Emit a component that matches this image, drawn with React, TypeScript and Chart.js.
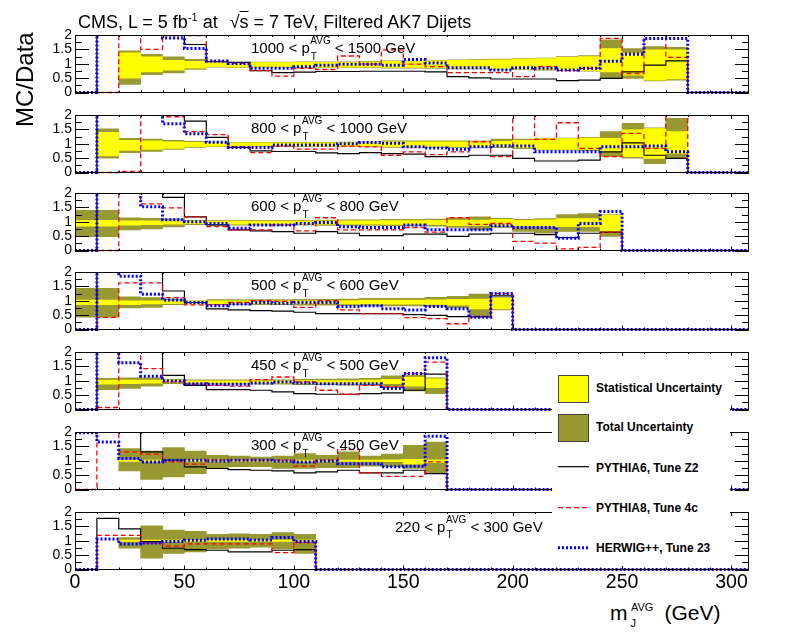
import React, { useEffect, useRef } from "react";
import { Chart, registerables } from "chart.js";

Chart.register(...registerables);

const O = 3; // above the 0..2 frame: clipped away, only the vertical edge shows
const _ = null;

const BIN_EDGES = [0, 10, 20, 30, 40, 50, 60, 70, 80, 90, 100, 110, 120, 130, 140, 150, 160, 170, 180, 190, 200, 210, 220, 230, 240, 250, 260, 270, 280, 290, 300, 310];
const X_TICKS = [0, 50, 100, 150, 200, 250, 300];
const X_MINOR = [0, 10, 20, 30, 40, 50, 60, 70, 80, 90, 100, 110, 120, 130, 140, 150, 160, 170, 180, 190, 200, 210, 220, 230, 240, 250, 260, 270, 280, 290, 300];
const Y_TICKS = [0, 0.5, 1, 1.5, 2];
const Y_MINOR = [0.25, 0.75, 1.25, 1.75];

// 1000 < pT < 1500
const PY6_1000 = [0, O, O, O, O, 1.67, 1.07, 1.05, 0.76, 0.69, 0.71, 0.73, 0.73, 0.74, 0.74, 0.74, 0.72, 0.55, 0.51, 0.47, 0.47, 0.47, 0.41, 0.43, 0.49, 0.72, 0.95, 1.1, 0, 0, 0];
const PY8_1000 = [0, 0, O, 1.5, 1.98, 1.98, 1.09, 1.01, 0.76, 0.57, 0.84, 0.8, 1.27, 0.99, 1.48, 0.99, 0.9, 0.69, 0.69, 0.69, 0.55, 0.9, 0.76, 0.84, 1.88, 0.66, O, 1.22, 0, 0, 0];
const HW_1000 = [0, O, O, O, 1.9, 1.53, 1.1, 1.01, 0.84, 0.84, 0.9, 0.95, 0.98, 0.98, 0.95, 1.15, 1.03, 0.86, 0.86, 0.78, 0.86, 0.84, 0.78, 0.84, 1.09, 1.33, 1.88, 1.88, 0, 0, 0];
const STAT_LO_1000 = [_, _, 0.5, 0.72, 0.78, 0.85, 0.9, 0.88, 0.88, 0.88, 0.88, 0.88, 0.88, 0.88, 0.87, 0.87, 0.86, 0.84, 0.84, 0.83, 0.82, 0.8, 0.78, 0.76, 0.72, 0.6, 0.43, 0.47, _, _, _];
const STAT_HI_1000 = [_, _, 1.38, 1.24, 1.12, 1.08, 1.05, 1.04, 1.04, 1.04, 1.05, 1.05, 1.05, 1.06, 1.08, 1.08, 1.1, 1.12, 1.13, 1.14, 1.16, 1.18, 1.22, 1.25, 1.53, 1.36, 1.48, 1.48, _, _, _];
const TOT_LO_1000 = [_, _, 0.28, 0.62, 0.68, 0.8, 0.88, 0.86, 0.86, 0.86, 0.86, 0.86, 0.86, 0.86, 0.85, 0.85, 0.84, 0.82, 0.82, 0.81, 0.8, 0.78, 0.76, 0.74, 0.52, 0.49, 0.4, 0.43, _, _, _];
const TOT_HI_1000 = [_, _, 1.45, 1.33, 1.24, 1.15, 1.08, 1.06, 1.06, 1.06, 1.07, 1.07, 1.07, 1.08, 1.1, 1.1, 1.12, 1.14, 1.15, 1.16, 1.18, 1.2, 1.25, 1.28, 1.83, 1.53, 1.6, 1.57, _, _, _];

// 800 < pT < 1000
const PY6_800 = [0, O, O, O, O, 1.79, 1.22, 0.87, 0.75, 0.73, 0.73, 0.68, 0.66, 0.69, 0.66, 0.64, 0.55, 0.55, 0.6, 0.6, 0.49, 0.4, 0.4, 0.43, 0.72, 1.03, 0.6, 0.49, 0, 0, 0];
const PY8_800 = [0, 0, 0.04, O, 1.94, 1.42, 1.32, 0.89, 0.69, 0.92, 0.81, 0.81, 0.92, 0.89, 0.6, 0.72, 0.62, 0.72, 1.07, 0.55, O, 1.15, 1.73, 0.84, 0.55, 1.36, 0.84, O, 0, 0, 0];
const HW_800 = [0, O, O, O, 1.7, 1.35, 1.05, 0.87, 0.87, 0.96, 0.96, 0.96, 1.0, 1.04, 1.02, 0.9, 0.85, 0.81, 0.9, 0.93, 0.92, 0.72, 0.72, 0.72, 0.9, 0.9, 0.92, 0.72, 0, 0, 0];
const STAT_LO_800 = [_, 0.58, 0.77, 0.8, 0.84, 0.9, 0.92, 0.92, 0.92, 0.92, 0.92, 0.92, 0.92, 0.92, 0.9, 0.9, 0.9, 0.9, 0.9, 0.9, 0.86, 0.8, 0.8, 0.8, 0.72, 0.55, 0.49, 0.66, _, _, _];
const STAT_HI_800 = [_, 1.4, 1.12, 1.1, 1.07, 1.05, 1.04, 1.03, 1.03, 1.03, 1.03, 1.03, 1.04, 1.04, 1.07, 1.07, 1.07, 1.07, 1.07, 1.08, 1.12, 1.18, 1.18, 1.2, 1.19, 1.48, 1.53, 1.42, _, _, _];
const TOT_LO_800 = [_, 0.5, 0.69, 0.73, 0.8, 0.87, 0.9, 0.9, 0.9, 0.9, 0.9, 0.9, 0.9, 0.9, 0.87, 0.87, 0.87, 0.87, 0.87, 0.86, 0.83, 0.78, 0.78, 0.76, 0.55, 0.5, 0.31, 0.49, _, _, _];
const TOT_HI_800 = [_, 1.52, 1.19, 1.16, 1.12, 1.08, 1.06, 1.05, 1.05, 1.05, 1.05, 1.05, 1.06, 1.06, 1.1, 1.1, 1.1, 1.1, 1.1, 1.16, 1.16, 1.2, 1.2, 1.22, 1.42, 1.71, 1.55, 1.88, _, _, _];

// 600 < pT < 800
const PY6_600 = [0, O, O, O, 1.85, 1.17, 0.89, 0.72, 0.68, 0.66, 0.6, 0.66, 0.6, 0.52, 0.52, 0.57, 0.57, 0.49, 0.57, 0.6, 0.6, 0.55, 0.45, 0.6, 0.64, 0, 0, 0, 0, 0, 0];
const PY8_600 = [0, 0, O, 1.62, 1.48, 1.17, 0.83, 0.72, 0.72, 0.89, 0.68, 1.14, 0.72, 0.72, 0.72, 0.8, 0.64, 1.14, 0.91, 0.94, 0.32, 0.26, 0.06, 0.11, 0.64, 0, 0, 0, 0, 0, 0];
const HW_600 = [0, O, O, 1.52, 1.07, 1.0, 0.94, 0.77, 0.89, 0.89, 0.94, 0.97, 0.83, 0.8, 0.8, 0.89, 0.72, 0.72, 0.72, 0.86, 0.8, 0.8, 0.43, 0.94, 1.36, 0, 0, 0, 0, 0, 0];
const STAT_LO_600 = [0.85, 0.85, 0.88, 0.9, 0.92, 0.93, 0.92, 0.92, 0.92, 0.92, 0.92, 0.92, 0.92, 0.92, 0.91, 0.91, 0.9, 0.86, 0.86, 0.86, 0.85, 0.84, 0.83, 0.83, 0.66, _, _, _, _, _, _];
const STAT_HI_600 = [1.05, 1.05, 1.03, 1.03, 1.03, 1.03, 1.02, 1.02, 1.02, 1.02, 1.02, 1.02, 1.03, 1.03, 1.04, 1.04, 1.05, 1.06, 1.06, 1.08, 1.05, 1.07, 1.11, 1.11, 1.23, _, _, _, _, _, _];
const TOT_LO_600 = [0.48, 0.48, 0.72, 0.75, 0.82, 0.9, 0.88, 0.88, 0.88, 0.88, 0.88, 0.87, 0.87, 0.87, 0.86, 0.86, 0.85, 0.8, 0.72, 0.8, 0.66, 0.6, 0.66, 0.66, 0.49, _, _, _, _, _, _];
const TOT_HI_600 = [1.4, 1.4, 1.14, 1.12, 1.1, 1.05, 1.05, 1.05, 1.05, 1.05, 1.05, 1.06, 1.07, 1.07, 1.08, 1.08, 1.09, 1.14, 1.17, 1.12, 1.08, 1.11, 1.25, 1.28, 1.25, _, _, _, _, _, _];

// 500 < pT < 600
const PY6_500 = [0, O, O, O, 1.34, 0.94, 0.72, 0.68, 0.66, 0.64, 0.6, 0.55, 0.55, 0.55, 0.55, 0.52, 0.49, 0.45, 0.45, 1.17, 0, 0, 0, 0, 0, 0, 0, 0, 0, 0, 0];
const PY8_500 = [0, 0.42, 1.62, 1.62, 1.11, 0.86, 0.86, 0.94, 1.0, 0.98, 0.77, 1.0, 0.68, 0.55, 0.55, 0.41, 0.38, 0.2, 0.45, 1.25, 0, 0, 0, 0, 0, 0, 0, 0, 0, 0, 0];
const HW_500 = [0, O, 1.85, 1.23, 1.03, 0.94, 0.83, 0.89, 0.94, 0.91, 0.94, 0.94, 0.8, 0.83, 0.72, 0.68, 0.8, 0.72, 0.43, 1.25, 0, 0, 0, 0, 0, 0, 0, 0, 0, 0, 0];
const STAT_LO_500 = [0.86, 0.86, 0.86, 0.89, 0.9, 0.91, 0.9, 0.9, 0.9, 0.9, 0.9, 0.9, 0.89, 0.88, 0.88, 0.88, 0.87, 0.85, 0.72, 0.72, _, _, _, _, _, _, _, _, _, _, _];
const STAT_HI_500 = [1.02, 1.02, 1.0, 1.0, 1.0, 0.99, 1.0, 1.0, 1.0, 1.0, 1.0, 1.01, 1.01, 1.02, 1.02, 1.02, 1.03, 1.05, 1.06, 1.09, _, _, _, _, _, _, _, _, _, _, _];
const TOT_LO_500 = [0.43, 0.43, 0.75, 0.77, 0.86, 0.89, 0.86, 0.86, 0.86, 0.86, 0.85, 0.85, 0.84, 0.82, 0.82, 0.82, 0.8, 0.75, 0.43, 0.68, _, _, _, _, _, _, _, _, _, _, _];
const TOT_HI_500 = [1.43, 1.43, 1.14, 1.11, 1.06, 1.0, 1.04, 1.04, 1.04, 1.04, 1.05, 1.05, 1.06, 1.08, 1.08, 1.08, 1.12, 1.15, 1.23, 1.11, _, _, _, _, _, _, _, _, _, _, _];

// 450 < pT < 500
const PY6_450 = [0, O, O, O, 1.19, 0.84, 0.69, 0.69, 0.67, 0.61, 0.55, 0.53, 0.53, 0.55, 0.58, 0.67, 1.23, 0, 0, 0, 0, 0, 0, 0, 0, 0, 0, 0, 0, 0, 0];
const PY8_450 = [0, 0.07, O, 1.42, 0.96, 0.88, 0.84, 0.81, 1.04, 1.13, 0.96, 0.67, 0.53, 0.84, 0.79, 1.25, 1.65, 0, 0, 0, 0, 0, 0, 0, 0, 0, 0, 0, 0, 0, 0];
const HW_450 = [0, O, 1.63, 1.16, 0.99, 0.9, 0.88, 0.88, 0.92, 0.96, 0.92, 0.9, 0.9, 0.9, 0.73, 1.25, 1.8, 0, 0, 0, 0, 0, 0, 0, 0, 0, 0, 0, 0, 0, 0];
const STAT_LO_450 = [_, 0.88, 0.9, 0.92, 0.94, 0.92, 0.92, 0.92, 0.92, 0.92, 0.92, 0.91, 0.91, 0.91, 0.9, 0.81, 0.76, _, _, _, _, _, _, _, _, _, _, _, _, _, _];
const STAT_HI_450 = [_, 1.02, 1.02, 1.02, 1.02, 1.0, 1.0, 1.0, 1.0, 1.0, 1.01, 1.01, 1.01, 1.02, 1.05, 1.13, 1.07, _, _, _, _, _, _, _, _, _, _, _, _, _, _];
const TOT_LO_450 = [_, 0.69, 0.73, 0.81, 0.9, 0.88, 0.88, 0.88, 0.88, 0.88, 0.86, 0.86, 0.85, 0.85, 0.76, 0.65, 0.55, _, _, _, _, _, _, _, _, _, _, _, _, _, _];
const TOT_HI_450 = [_, 1.08, 1.1, 1.1, 1.05, 1.03, 1.03, 1.03, 1.03, 1.03, 1.05, 1.06, 1.07, 1.08, 1.17, 1.19, 1.1, _, _, _, _, _, _, _, _, _, _, _, _, _, _];

// 300 < pT < 450
const PY6_300 = [O, O, O, 1.31, 1.02, 0.79, 0.73, 0.69, 0.67, 0.65, 0.58, 0.61, 0.67, 0.58, 0.58, 0.67, 0.55, 0, 0, 0, 0, 0, 0, 0, 0, 0, 0, 0, 0, 0, 0];
const PY8_300 = [0, O, 1.31, 1.23, 0.96, 0.88, 1.02, 1.02, 1.02, 1.02, 0.81, 1.02, 1.39, 0.58, 0.46, 0.46, 0.96, 0, 0, 0, 0, 0, 0, 0, 0, 0, 0, 0, 0, 0, 0];
const HW_300 = [1.97, 1.65, 1.08, 0.96, 1.02, 1.02, 0.99, 1.02, 1.02, 0.99, 0.96, 0.99, 0.9, 0.9, 0.79, 0.81, 1.85, 0, 0, 0, 0, 0, 0, 0, 0, 0, 0, 0, 0, 0, 0];
const STAT_LO_300 = [_, _, 0.98, 0.98, 0.98, 0.98, 0.98, 0.98, 0.98, 0.98, 0.98, 0.98, 0.98, 0.98, 0.97, 0.88, 0.93, _, _, _, _, _, _, _, _, _, _, _, _, _, _];
const STAT_HI_300 = [_, _, 1.02, 1.02, 1.02, 1.02, 1.02, 1.02, 1.02, 1.02, 1.02, 1.02, 1.02, 1.02, 1.03, 1.05, 1.03, _, _, _, _, _, _, _, _, _, _, _, _, _, _];
const TOT_LO_300 = [_, _, 0.65, 0.35, 0.44, 0.55, 0.73, 0.79, 0.79, 0.73, 0.73, 0.76, 0.76, 0.81, 0.79, 0.73, 0.55, _, _, _, _, _, _, _, _, _, _, _, _, _, _];
const TOT_HI_300 = [_, _, 1.42, 1.34, 1.46, 1.34, 1.19, 1.16, 1.13, 1.16, 1.25, 1.19, 1.31, 1.16, 1.23, 1.54, 1.65, _, _, _, _, _, _, _, _, _, _, _, _, _, _];

// 220 < pT < 300
const PY6_220 = [0, 1.78, 1.41, 0.97, 0.74, 0.69, 0.67, 0.61, 0.61, 0.67, 0.69, 0, 0, 0, 0, 0, 0, 0, 0, 0, 0, 0, 0, 0, 0, 0, 0, 0, 0, 0, 0];
const PY8_220 = [0, 1.19, 1.19, 0.92, 0.81, 0.89, 0.89, 0.89, 0.89, 0.59, 0.94, 0, 0, 0, 0, 0, 0, 0, 0, 0, 0, 0, 0, 0, 0, 0, 0, 0, 0, 0, 0];
const HW_220 = [0, 1.06, 0.89, 0.92, 0.97, 1.02, 1.06, 1.06, 1.03, 1.11, 0.97, 0, 0, 0, 0, 0, 0, 0, 0, 0, 0, 0, 0, 0, 0, 0, 0, 0, 0, 0, 0];
const STAT_LO_220 = [_, _, 0.98, 0.98, 0.98, 0.98, 0.98, 0.98, 0.98, 0.98, 0.98, _, _, _, _, _, _, _, _, _, _, _, _, _, _, _, _, _, _, _, _];
const STAT_HI_220 = [_, _, 1.02, 1.02, 1.02, 1.02, 1.02, 1.02, 1.02, 1.02, 1.02, _, _, _, _, _, _, _, _, _, _, _, _, _, _, _, _, _, _, _, _];
const TOT_LO_220 = [_, _, 0.74, 0.39, 0.56, 0.61, 0.72, 0.74, 0.78, 0.72, 0.56, _, _, _, _, _, _, _, _, _, _, _, _, _, _, _, _, _, _, _, _];
const TOT_HI_220 = [_, _, 1.11, 1.52, 1.37, 1.33, 1.22, 1.24, 1.22, 1.28, 1.22, _, _, _, _, _, _, _, _, _, _, _, _, _, _, _, _, _, _, _, _];

type Vals = (number | null)[];
interface PanelData {
  low: string;
  high: string;
  py6: number[];
  py8: number[];
  hw: number[];
  statLo: Vals;
  statHi: Vals;
  totLo: Vals;
  totHi: Vals;
}

const PANELS: PanelData[] = [
  { low: "1000", high: "1500", py6: PY6_1000, py8: PY8_1000, hw: HW_1000, statLo: STAT_LO_1000, statHi: STAT_HI_1000, totLo: TOT_LO_1000, totHi: TOT_HI_1000 },
  { low: "800", high: "1000", py6: PY6_800, py8: PY8_800, hw: HW_800, statLo: STAT_LO_800, statHi: STAT_HI_800, totLo: TOT_LO_800, totHi: TOT_HI_800 },
  { low: "600", high: "800", py6: PY6_600, py8: PY8_600, hw: HW_600, statLo: STAT_LO_600, statHi: STAT_HI_600, totLo: TOT_LO_600, totHi: TOT_HI_600 },
  { low: "500", high: "600", py6: PY6_500, py8: PY8_500, hw: HW_500, statLo: STAT_LO_500, statHi: STAT_HI_500, totLo: TOT_LO_500, totHi: TOT_HI_500 },
  { low: "450", high: "500", py6: PY6_450, py8: PY8_450, hw: HW_450, statLo: STAT_LO_450, statHi: STAT_HI_450, totLo: TOT_LO_450, totHi: TOT_HI_450 },
  { low: "300", high: "450", py6: PY6_300, py8: PY8_300, hw: HW_300, statLo: STAT_LO_300, statHi: STAT_HI_300, totLo: TOT_LO_300, totHi: TOT_HI_300 },
  { low: "220", high: "300", py6: PY6_220, py8: PY8_220, hw: HW_220, statLo: STAT_LO_220, statHi: STAT_HI_220, totLo: TOT_LO_220, totHi: TOT_HI_220 },
];

// layout (page pixels)
const FRAME_TOPS = [35, 115, 193, 272, 352, 432, 512];
const FRAME_H = 57.5;
const FRAME_LEFT = 75;
const CANVAS_W = 769; // frame right edge at 749
const LABEL_X = [251, 251, 251, 251, 251, 251, 395];
const LABEL_DY = [18.3, 18.3, 18.3, 18.3, 18.3, 18.3, 19.5];

const FONT = '"Liberation Sans", Arial, sans-serif';
const YELLOW = "#ffff00";
const OLIVE = "#999933";

function stepPoints(v: number[]) {
  return BIN_EDGES.map((e, i) => ({ x: e, y: v[Math.min(i, v.length - 1)] }));
}

function bandPoints(lo: Vals, hi: Vals) {
  const pts: { x: number; y: [number, number] }[] = [];
  lo.forEach((l, i) => {
    const h = hi[i];
    if (l != null && h != null) pts.push({ x: (BIN_EDGES[i] + BIN_EDGES[i + 1]) / 2, y: [l, h] });
  });
  return pts;
}

// ROOT style frame with inward ticks on all four sides
const framePlugin = {
  id: "rootFrame",
  afterDraw(chart: any) {
    const { ctx, chartArea: a, scales } = chart;
    const xs = scales.x;
    const ys = scales.y;
    ctx.save();
    ctx.strokeStyle = "#000";
    ctx.lineWidth = 1;
    ctx.beginPath();
    const yTick = (v: number, len: number) => {
      const py = Math.round(ys.getPixelForValue(v)) + 0.5;
      ctx.moveTo(a.left, py);
      ctx.lineTo(a.left + len, py);
      ctx.moveTo(a.right, py);
      ctx.lineTo(a.right - len, py);
    };
    Y_TICKS.forEach((v) => yTick(v, 14));
    Y_MINOR.forEach((v) => yTick(v, 7));
    X_MINOR.forEach((v) => {
      const px = Math.round(xs.getPixelForValue(v)) + 0.5;
      const len = X_TICKS.includes(v) ? 4 : 2;
      ctx.moveTo(px, a.bottom);
      ctx.lineTo(px, a.bottom - len);
      ctx.moveTo(px, a.top);
      ctx.lineTo(px, a.top + len);
    });
    ctx.stroke();
    ctx.strokeRect(Math.round(a.left) + 0.5, Math.round(a.top) + 0.5, Math.round(a.width) - 1, Math.round(a.height) - 1);
    ctx.restore();
  },
};

// "low < pT^AVG < high GeV"
const labelPlugin = {
  id: "ptLabel",
  afterDraw(chart: any, _args: any, opts: any) {
    const ctx = chart.ctx;
    ctx.save();
    ctx.fillStyle = "#000";
    ctx.textBaseline = "alphabetic";
    ctx.textAlign = "left";
    let x = opts.x;
    const y = opts.y;
    ctx.font = `15px ${FONT}`;
    const head = `${opts.low} < p`;
    ctx.fillText(head, x, y);
    x += ctx.measureText(head).width + 0.5;
    ctx.font = `10px ${FONT}`;
    ctx.fillText("AVG", x, y - 9);
    ctx.fillText("T", x + 0.5, y + 6.7);
    x += ctx.measureText("AVG").width;
    ctx.font = `15px ${FONT}`;
    ctx.fillText(` < ${opts.high} GeV`, x, y);
    ctx.restore();
  },
};

const Panel: React.FC<{ idx: number }> = ({ idx }) => {
  const canvasRef = useRef<HTMLCanvasElement | null>(null);
  const isLast = idx === PANELS.length - 1;
  const frameTop = FRAME_TOPS[idx];
  const canvasTop = Math.floor(frameTop) - 10;
  const padTop = frameTop - canvasTop;
  const axisH = isLast ? 30 : 0;
  const height = Math.ceil(padTop + FRAME_H + (isLast ? 30 : 10));
  const padBottom = height - padTop - FRAME_H - axisH;

  useEffect(() => {
    if (!canvasRef.current) return;
    const p = PANELS[idx];
    const lineCommon = { type: "line" as const, pointRadius: 0, stepped: true, fill: false, clip: { left: 0, right: 0, top: 0, bottom: 3 } as any };
    const chart = new Chart(canvasRef.current, {
      type: "bar",
      data: {
        datasets: [
          { ...lineCommon, label: "HERWIG++, Tune 23", data: stepPoints(p.hw), borderColor: "#0000ff", borderWidth: 3, borderDash: [2, 2], order: 1 },
          { ...lineCommon, label: "PYTHIA8, Tune 4c", data: stepPoints(p.py8), borderColor: "#ff0000", borderWidth: 1.3, borderDash: [5, 3], order: 2 },
          { ...lineCommon, label: "PYTHIA6, Tune Z2", data: stepPoints(p.py6), borderColor: "#000000", borderWidth: 1.2, order: 3 },
          { type: "bar", label: "Statistical Uncertainty", data: bandPoints(p.statLo, p.statHi) as any, backgroundColor: YELLOW, borderWidth: 0, grouped: false, barPercentage: 1, categoryPercentage: 1, order: 4 },
          { type: "bar", label: "Total Uncertainty", data: bandPoints(p.totLo, p.totHi) as any, backgroundColor: OLIVE, borderWidth: 0, grouped: false, barPercentage: 1, categoryPercentage: 1, order: 5 },
        ] as any,
      },
      options: {
        animation: false,
        responsive: false,
        events: [],
        layout: { padding: { top: padTop, bottom: padBottom, left: 0, right: CANVAS_W - 749 } },
        plugins: {
          legend: { display: false },
          tooltip: { enabled: false },
          ptLabel: { x: LABEL_X[idx], y: frameTop + LABEL_DY[idx] - canvasTop, low: p.low, high: p.high },
        } as any,
        scales: {
          x: {
            type: "linear",
            min: 0,
            max: 308,
            offset: false,
            display: isLast,
            grid: { display: false, drawTicks: false },
            border: { display: false },
            afterBuildTicks: (s: any) => {
              s.ticks = X_TICKS.map((v) => ({ value: v }));
            },
            ticks: { autoSkip: false, maxRotation: 0, color: "#000", padding: 1, font: { family: FONT, size: 19.5 }, callback: (v: any) => String(v) },
            ...(isLast ? { afterFit: (s: any) => { s.height = axisH; } } : {}),
          },
          y: {
            min: 0,
            max: 2,
            grid: { display: false, drawTicks: false },
            border: { display: false },
            afterBuildTicks: (s: any) => {
              s.ticks = Y_TICKS.map((v) => ({ value: v }));
            },
            ticks: { autoSkip: false, color: "#000", padding: 3, font: { family: FONT, size: 14, lineHeight: 1 }, callback: (v: any) => String(v) },
            afterFit: (s: any) => {
              s.width = FRAME_LEFT;
            },
          },
        } as any,
      },
      plugins: [framePlugin, labelPlugin],
    });
    return () => {
      chart.destroy();
    };
  }, [idx]);

  return (
    <canvas
      ref={canvasRef}
      width={CANVAS_W}
      height={height}
      style={{ position: "absolute", left: 0, top: canvasTop, width: CANVAS_W, height }}
    />
  );
};

// text placed by its baseline
const Txt: React.FC<{ x: number; base: number; size: number; bold?: boolean; children: React.ReactNode }> = ({ x, base, size, bold, children }) => (
  <div
    style={{
      position: "absolute",
      left: x,
      top: base - 0.8465 * size,
      fontFamily: FONT,
      fontSize: size,
      fontWeight: bold ? "bold" : "normal",
      lineHeight: `${size}px`,
      whiteSpace: "nowrap",
      color: "#000",
    }}
  >
    {children}
  </div>
);

const LegendBox: React.FC = () => {
  const box = { position: "absolute" as const, left: 558, width: 31, height: 28, border: "1px solid #444", boxSizing: "border-box" as const };
  return (
    <div style={{ position: "absolute", left: 552, top: 356, width: 178, height: 210, background: "#fff", zIndex: 5 }}>
      <div style={{ position: "absolute", left: -552, top: -356 }}>
        <div style={{ ...box, top: 375, background: YELLOW }} />
        <Txt x={596} base={391.7} size={12} bold>Statistical Uncertainty</Txt>
        <div style={{ ...box, top: 414, background: OLIVE }} />
        <Txt x={596} base={431.5} size={12} bold>Total Uncertainty</Txt>
        <svg style={{ position: "absolute", left: 558, top: 460 }} width={32} height={96}>
          <line x1={0} x2={31} y1={6.7} y2={6.7} stroke="#000" strokeWidth={1.2} />
          <line x1={0} x2={31} y1={47.7} y2={47.7} stroke="#ff0000" strokeWidth={1.3} strokeDasharray="5 3" />
          <line x1={0} x2={31} y1={87.7} y2={87.7} stroke="#0000ff" strokeWidth={3} strokeDasharray="2 2" />
        </svg>
        <Txt x={596} base={471.7} size={12} bold>PYTHIA6, Tune Z2</Txt>
        <Txt x={596} base={511.7} size={12} bold>PYTHIA8, Tune 4c</Txt>
        <Txt x={596} base={551.7} size={12} bold>HERWIG++, Tune 23</Txt>
      </div>
    </div>
  );
};

const App: React.FC = () => {
  return (
    <div style={{ position: "absolute", left: 0, top: 0, width: 789, height: 637, background: "#fff", overflow: "hidden" }}>
      {PANELS.map((_p, i) => (
        <Panel key={i} idx={i} />
      ))}
      <Txt x={78} base={28.3} size={18}>
        CMS, L = 5 fb<span style={{ position: "relative", top: -7, fontSize: 11 }}>-1</span> at
        <span style={{ marginLeft: 12 }}>√</span>
        <span style={{ textDecoration: "overline" }}>s</span> = 7 TeV, Filtered AK7 Dijets
      </Txt>
      <div
        style={{
          position: "absolute",
          left: 13,
          top: 126.8,
          transform: "rotate(-90deg)",
          transformOrigin: "0 0",
          fontFamily: FONT,
          fontSize: 24,
          lineHeight: "24px",
          whiteSpace: "nowrap",
        }}
      >
        MC/Data
      </div>
      <Txt x={610} base={620} size={21}>m</Txt>
      <Txt x={631} base={611.5} size={11}>AVG</Txt>
      <Txt x={630.5} base={627} size={11}>J</Txt>
      <Txt x={664.5} base={620} size={21}>(GeV)</Txt>
      <LegendBox />
    </div>
  );
};

export default App;
